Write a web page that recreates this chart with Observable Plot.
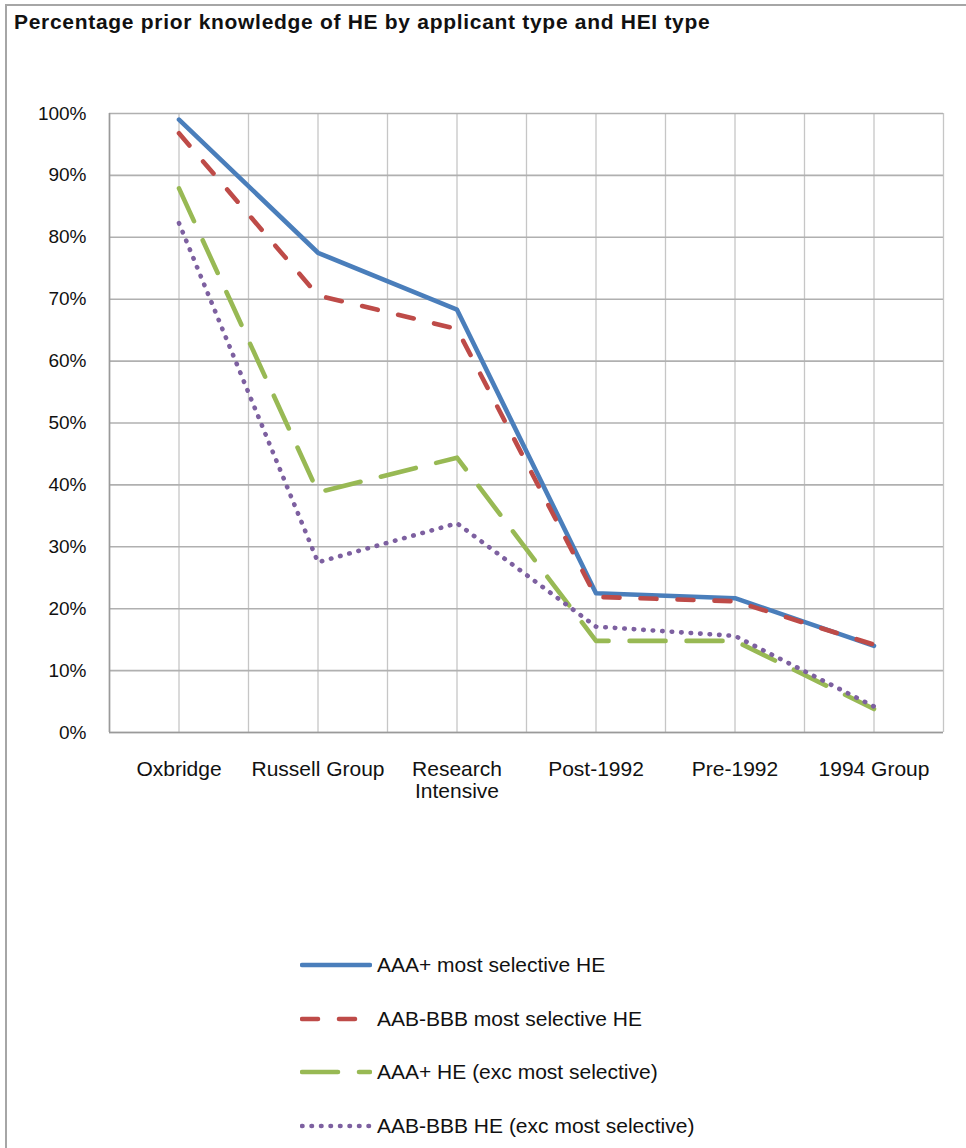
<!DOCTYPE html>
<html>
<head>
<meta charset="utf-8">
<script src="https://cdn.jsdelivr.net/npm/d3@7"></script>
<script src="https://cdn.jsdelivr.net/npm/@observablehq/plot@0.6"></script>
<style>
  html, body { margin: 0; padding: 0; background: #fff; }
  #page { position: relative; width: 966px; height: 1148px; overflow: hidden; font-family: "Liberation Sans", Arial, sans-serif; color: #111; }
  .bl { position: absolute; left: 5px; top: 4px; width: 2px; height: 1144px; background: #a6a6a6; }
  .bt { position: absolute; left: 5px; top: 4px; width: 961px; height: 2px; background: #a6a6a6; }
  #title { position: absolute; left: 14px; top: 11px; font-size: 21px; line-height: 1; font-weight: bold; white-space: nowrap; letter-spacing: 0.7px; }
  #chart { position: absolute; left: 0; top: 40px; }
  .lg { position: absolute; left: 300px; height: 30px; display: flex; align-items: center; white-space: nowrap; font-size: 21px; }
  .lg svg { display: block; margin-right: 5px; }
</style>
</head>
<body>
<div id="page">
  <div class="bl"></div>
  <div class="bt"></div>
  <div id="title">Percentage prior knowledge of HE by applicant type and HEI type</div>
  <div id="chart"></div>
  <div id="legend"></div>
</div>
<script>
// ---- data ----
const categories = ["Oxbridge", "Russell Group", "Research\nIntensive", "Post-1992", "Pre-1992", "1994 Group"];
const seriesNames = [
  "AAA+ most selective HE",
  "AAB-BBB most selective HE",
  "AAA+ HE (exc most selective)",
  "AAB-BBB HE (exc most selective)"
];
const aaaMostSelective = [0.990, 0.775, 0.683, 0.225, 0.217, 0.140];
const aabMostSelective = [0.968, 0.706, 0.652, 0.219, 0.212, 0.142];
const aaaOther         = [0.879, 0.388, 0.444, 0.148, 0.148, 0.038];
const aabOther         = [0.823, 0.275, 0.338, 0.171, 0.156, 0.042];
const yTicks = [0, 0.1, 0.2, 0.3, 0.4, 0.5, 0.6, 0.7, 0.8, 0.9, 1.0];

// ---- styles ----
const seriesValues = [aaaMostSelective, aabMostSelective, aaaOther, aabOther];
const colors = ["#4A7EBB", "#BE4B48", "#98B954", "#7D60A0"];
const dashes = [null, "16,21", "36,21", "0.5,9"];

const rows = seriesValues.map((vals, s) => vals.map((v, i) => ({series: seriesNames[s], i, v})));
const catIdx = categories.map((c, i) => i);
const gridXTicks = d3.range(-0.5, categories.length, 0.5);

const lineMarks = rows.map((data, s) => Plot.line(data, {
  x: "i", y: "v",
  stroke: colors[s],
  strokeWidth: 4.6,
  strokeDasharray: dashes[s] || undefined,
  strokeLinecap: "round",
  strokeLinejoin: "round"
}));

const chart = Plot.plot({
  width: 966,
  height: 780,
  marginLeft: 109,
  marginRight: 23,
  marginTop: 73,
  marginBottom: 88,
  style: {fontFamily: '"Liberation Sans", Arial, sans-serif', color: "#111", background: "transparent", overflow: "visible"},
  x: {type: "linear", domain: [-0.5, categories.length - 0.5]},
  y: {domain: [0, 1]},
  marks: [
    Plot.gridX(gridXTicks, {stroke: "#c6c6c6", strokeOpacity: 1, strokeWidth: 1.3}),
    Plot.gridY(yTicks, {stroke: "#b0b0b0", strokeOpacity: 1, strokeWidth: 1.6}),
    Plot.ruleX([-0.5], {stroke: "#9a9a9a", strokeWidth: 1.6}),
    Plot.ruleY([0], {stroke: "#9a9a9a", strokeWidth: 1.6}),
    Plot.axisY({ticks: yTicks, tickFormat: d3.format(".0%"), tickSize: 0, tickPadding: 23, fontSize: 19, label: null}),
    Plot.axisX({ticks: catIdx, tickFormat: i => categories[i], tickSize: 0, tickPadding: 28, fontSize: 21, lineHeight: 1.05, label: null}),
    ...lineMarks
  ]
});
document.getElementById("chart").appendChild(chart);

// ---- legend ----
const legendTops = [965, 1019, 1072, 1126];
const legend = document.getElementById("legend");
seriesNames.forEach((name, s) => {
  const row = document.createElement("div");
  row.className = "lg";
  row.style.top = (legendTops[s] - 15) + "px";
  const dash = dashes[s] ? ` stroke-dasharray="${dashes[s]}"` : "";
  row.innerHTML = `<svg width="72" height="10"><line x1="2" y1="5" x2="70" y2="5" stroke="${colors[s]}" stroke-width="4.6" stroke-linecap="round"${dash}/></svg><span>${name}</span>`;
  legend.appendChild(row);
});
</script>
</body>
</html>
